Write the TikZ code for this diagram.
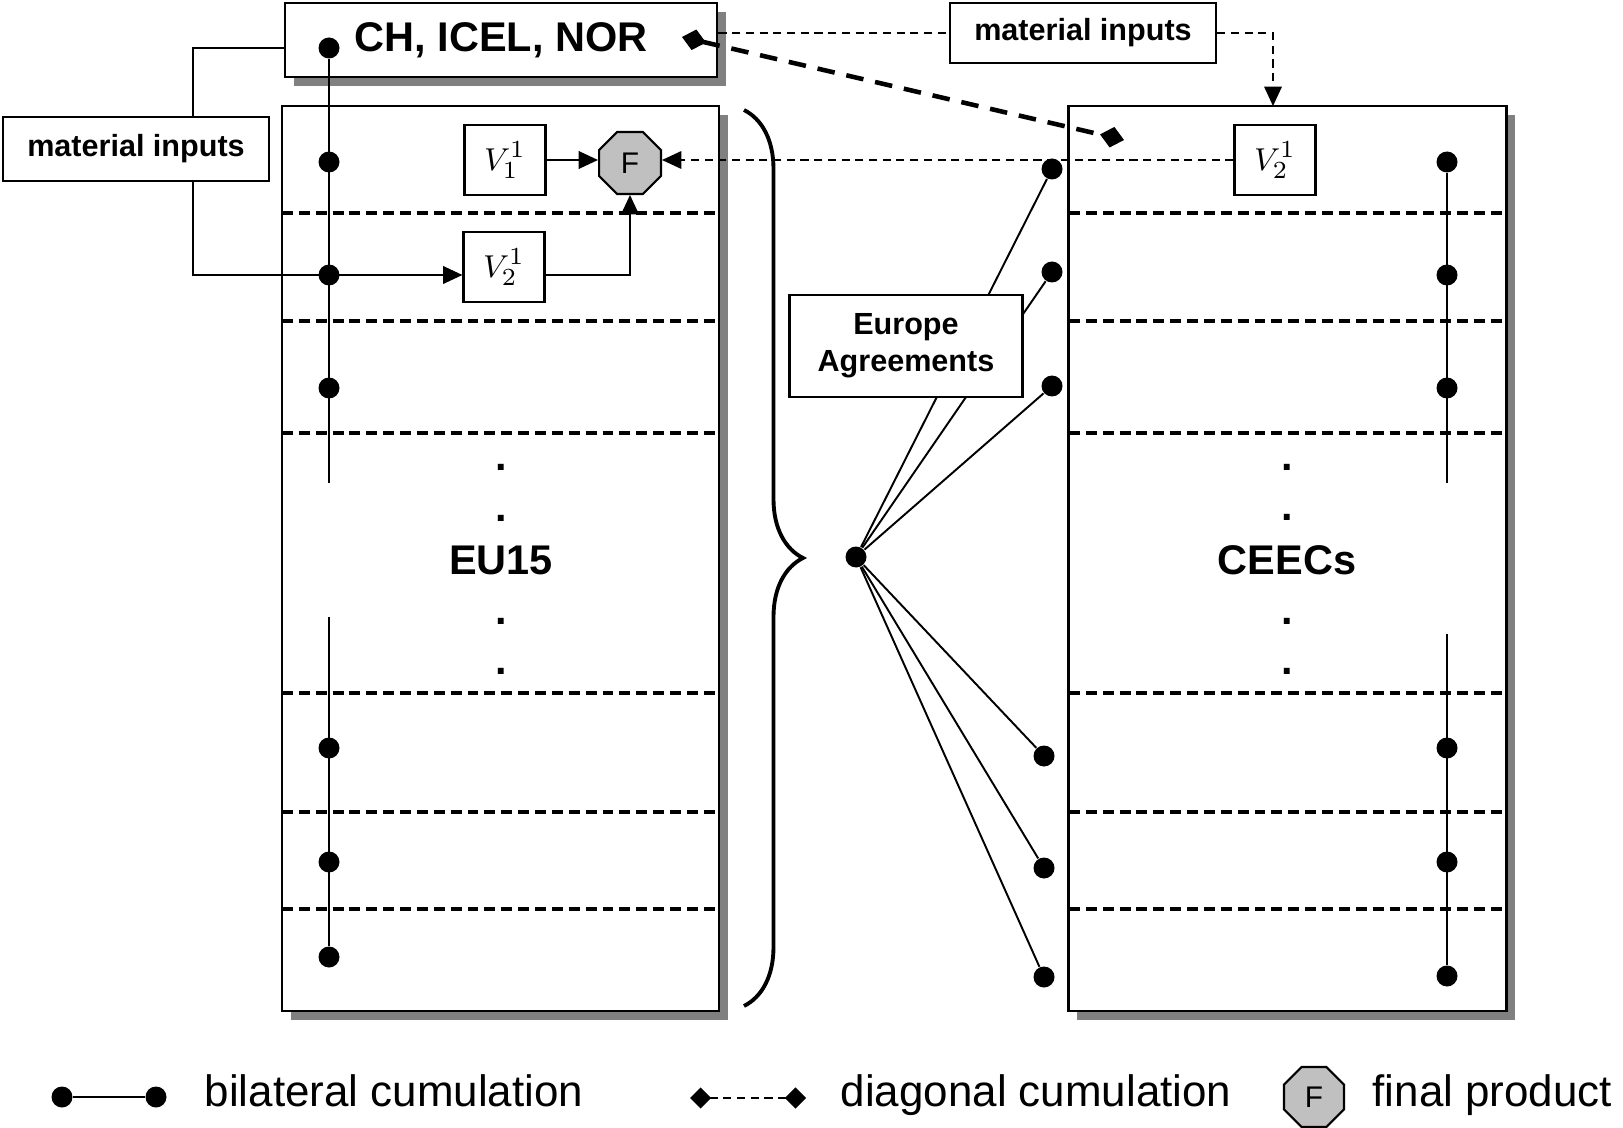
\documentclass[tikz,border=0pt]{standalone}
\usepackage{fontspec}
\setmainfont{Liberation Sans}
\usetikzlibrary{shapes.geometric,arrows.meta,shadows,decorations.pathreplacing}
\definecolor{shadowgray}{RGB}{128,128,128}
\definecolor{octgray}{RGB}{192,192,192}
\tikzset{
  box/.style={draw, line width=0.7pt, fill=white, inner sep=0pt},
  shadowbox/.style={box, line width=0.85pt, drop shadow={shadow xshift=0.9mm, shadow yshift=-0.9mm, fill=shadowgray, opacity=1}},
  vbox/.style={draw, line width=0.6pt, fill=white, inner sep=0pt, minimum width=8.1mm, minimum height=7mm, font=\fontsize{9.5}{11}\selectfont},
  knot/.style={circle, fill=black, inner sep=0pt, minimum size=2.1mm},
  final/.style={regular polygon, regular polygon sides=8, draw, line width=0.6pt, fill=octgray, inner sep=0pt, minimum size=6.7mm, font=\fontsize{8.5}{10}\selectfont},
  conn/.style={line width=0.55pt},
  divider/.style={line width=0.9pt, dash pattern=on 3.1pt off 1.7pt},
  thindash/.style={line width=0.45pt, dash pattern=on 2.3pt off 1.6pt},
  diag/.style={line width=1.3pt, dash pattern=on 5pt off 3.4pt},
  arr/.style={-{Triangle[length=5.5pt,width=5pt]}},
  bigtext/.style={font=\fontsize{11.8}{14}\selectfont\bfseries},
  smalltext/.style={font=\fontsize{8.7}{10.5}\selectfont\bfseries},
  legtext/.style={font=\fontsize{12.5}{15}\selectfont, anchor=base west, inner sep=0pt},
  period/.style={font=\fontsize{11.8}{14}\selectfont\bfseries, inner sep=0pt}
}
\begin{document}
\begin{tikzpicture}[x=0.1mm, y=-0.1mm]
        \useasboundingbox (0,0) rectangle (1623,1128);

        \node[shadowbox, minimum width=43.7mm, minimum height=90.5mm] (eu) at (500.5,558.5) {};
        \node[shadowbox, minimum width=43.8mm, minimum height=90.5mm] (ceec) at (1287,558.5) {};
        \node[shadowbox, bigtext, minimum width=43.2mm, minimum height=7.4mm] (ch) at (501,40) {CH, ICEL, NOR};

        \draw[divider] (282,213) -- (719,213);
        \draw[divider] (282,321) -- (719,321);
        \draw[divider] (282,433) -- (719,433);
        \draw[divider] (282,693) -- (719,693);
        \draw[divider] (282,812) -- (719,812);
        \draw[divider] (282,909) -- (719,909);
        \draw[divider] (1069,213) -- (1506,213);
        \draw[divider] (1069,321) -- (1506,321);
        \draw[divider] (1069,433) -- (1506,433);
        \draw[divider] (1069,693) -- (1506,693);
        \draw[divider] (1069,812) -- (1506,812);
        \draw[divider] (1069,909) -- (1506,909);

        \node[bigtext] (eutext) at (501,560) {EU15};
        \node[bigtext] (ceectext) at (1287,560) {CEECs};
        \node[period] (ep1) at (501,467) {.};
        \node[period] (ep2) at (501,518) {.};
        \node[period] (ep3) at (501,621) {.};
        \node[period] (ep4) at (501,671) {.};
        \node[period] (cp1) at (1287,467) {.};
        \node[period] (cp2) at (1287,517) {.};
        \node[period] (cp3) at (1287,621) {.};
        \node[period] (cp4) at (1287,671) {.};

        \node[box, smalltext, minimum width=26.6mm, minimum height=6.4mm] (mil) at (136,149) {material inputs};
        \node[box, smalltext, minimum width=26.6mm, minimum height=6mm] (mit) at (1083,33) {material inputs};

        \node[vbox] (v1) at (505,160) {$V_1^1$};
        \node[vbox] (v2a) at (504,267) {$V_2^1$};
        \node[vbox] (v2b) at (1275,160) {$V_2^1$};
        \node[final] (f) at (630,163) {F};

        \node[knot] (ed0) at (329,48) {};
        \node[knot] (ed1) at (329,162) {};
        \node[knot] (ed2) at (329,275) {};
        \node[knot] (ed3) at (329,388) {};
        \node[knot] (ed4) at (329,748) {};
        \node[knot] (ed5) at (329,862) {};
        \node[knot] (ed6) at (329,957) {};
        \coordinate (eend) at (329,483);
        \coordinate (estart) at (329,617);
        \draw[conn] (ed0) -- (eend);
        \draw[conn] (estart) -- (ed6);

        \node[knot] (cd1) at (1447,162) {};
        \node[knot] (cd2) at (1447,275) {};
        \node[knot] (cd3) at (1447,388) {};
        \node[knot] (cd4) at (1447,748) {};
        \node[knot] (cd5) at (1447,862) {};
        \node[knot] (cd6) at (1447,976) {};
        \coordinate (cend) at (1447,483);
        \coordinate (cstart) at (1447,634);
        \draw[conn] (cd1) -- (cend);
        \draw[conn] (cstart) -- (cd6);

        \coordinate (mlink) at (193,149);
        \draw[conn] (mil.north -| mlink) |- (ch.west |- ed0);
        \draw[conn, arr] (mil.south -| mlink) |- (v2a.west |- ed2);
        \draw[conn, arr] (v2a.east |- ed2) -| (f.south);
        \draw[conn, arr] (v1.east) -- (v1.east -| f.west);
        \draw[thindash, arr] (v2b.west) -- (v2b.west -| f.east);

        \coordinate (cin) at (1273,106);
        \draw[thindash] (ch.east |- mit.west) -- (mit.west);
        \draw[thindash, arr] (mit.east) -| (cin);

        \coordinate (dg1) at (682,37);
        \coordinate (dg2) at (1124,140);
        \draw[diag, {Diamond[length=7pt,width=6pt]}-{Diamond[length=7pt,width=6pt]}] (dg1) -- (dg2);

        \draw[line width=1.1pt, decorate, decoration={brace, amplitude=5.9mm}] (744,110) -- (744,1006);

        \node[knot] (hub) at (856,557) {};
        \node[knot] (a1) at (1052,169) {};
        \node[knot] (a2) at (1052,272) {};
        \node[knot] (a3) at (1052,386) {};
        \node[knot] (a4) at (1044,756) {};
        \node[knot] (a5) at (1044,868) {};
        \node[knot] (a6) at (1044,977) {};
        \draw[conn] (hub) -- (a1);
        \draw[conn] (hub) -- (a2);
        \draw[conn] (hub) -- (a3);
        \draw[conn] (hub) -- (a4);
        \draw[conn] (hub) -- (a5);
        \draw[conn] (hub) -- (a6);
        \node[box, smalltext, minimum width=23.3mm, minimum height=10.2mm, align=center] (ea) at (906,346) {Europe\\Agreements};

        \node[knot] (lb1) at (62,1097) {};
        \node[knot] (lb2) at (156,1097) {};
        \draw[conn] (lb1) -- (lb2);
        \node[legtext] (lbt) at (204,1106) {bilateral cumulation};
        \coordinate (ld1) at (690,1098);
        \coordinate (ld2) at (806,1098);
        \draw[thindash, line width=0.6pt, {Diamond[length=6pt,width=6pt]}-{Diamond[length=6pt,width=6pt]}] (ld1) -- (ld2);
        \node[legtext] (ldt) at (840,1106) {diagonal cumulation};
        \node[final, minimum size=6.5mm] (lf) at (1314,1097) {F};
        \node[legtext] (lft) at (1372,1106) {final product};
      \end{tikzpicture}
\end{document}
